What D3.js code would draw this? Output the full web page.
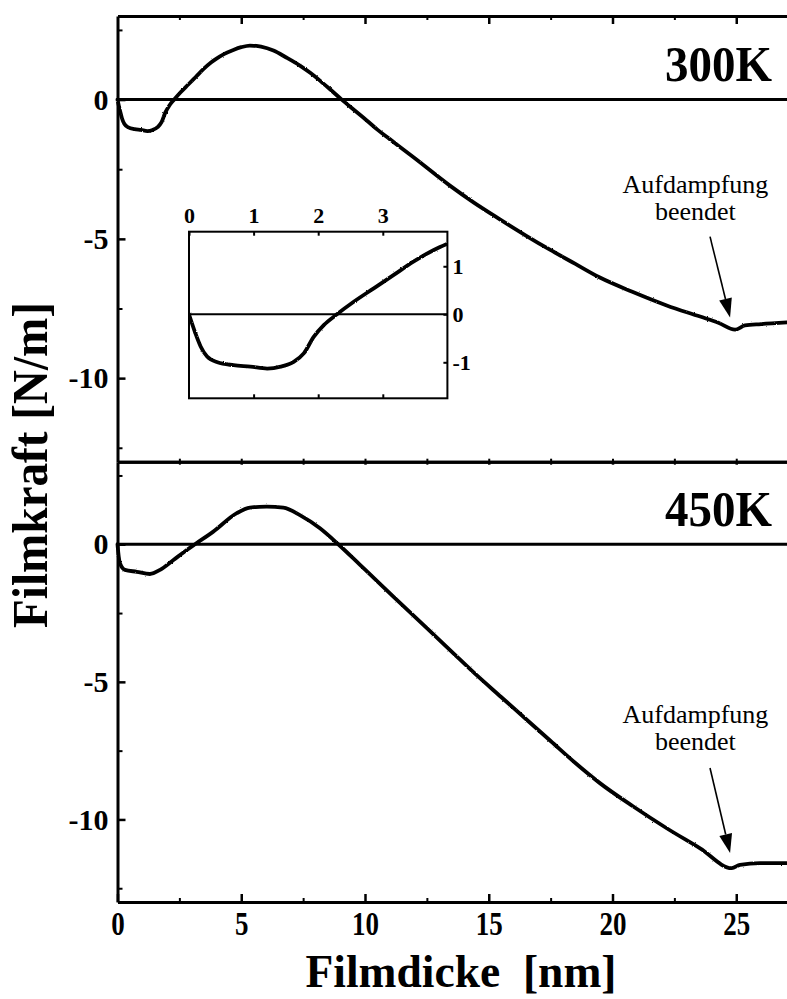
<!DOCTYPE html>
<html>
<head>
<meta charset="utf-8">
<script src="https://cdn.jsdelivr.net/npm/d3@7"></script>
<style>
  body { margin: 0; background: #fff; }
  svg { display: block; }
  text { font-family: "Liberation Serif", "Times New Roman", serif; fill: #000; }
</style>
</head>
<body>
<svg id="chart" width="787" height="999"></svg>
<script>
// Film thickness [nm] and film force [N/m], deposition at 300 K
const thickness300 = [0, 0.1, 0.18, 0.28, 0.44, 0.69, 0.95, 1.21, 1.42, 1.62, 1.78, 1.93, 2.09, 2.29, 2.55, 2.86, 3.17, 3.48, 3.79, 4.0,
  4.3, 4.68, 5.0, 5.35, 5.8, 6.3, 6.8, 7.37, 7.8, 8.18, 8.6, 9.06, 9.5, 10.07, 10.5, 11.0, 12.0, 13.43, 14.4, 15.45, 16.5, 17.47,
  18.5, 19.49, 20.8, 22.19, 23.54, 24.3, 24.95, 25.35, 26.0, 27.05];
const force300 = [0, -0.40, -0.67, -0.88, -1.0, -1.06, -1.09, -1.13, -1.09, -0.99, -0.81, -0.47, -0.22, 0.0, 0.26, 0.54, 0.82, 1.10, 1.34, 1.47,
  1.63, 1.78, 1.88, 1.94, 1.90, 1.76, 1.52, 1.22, 0.95, 0.68, 0.36, 0.0, -0.33, -0.75, -1.08, -1.42, -2.1, -3.09, -3.7, -4.3, -4.88, -5.39,
  -5.9, -6.39, -6.9, -7.39, -7.79, -8.02, -8.26, -8.11, -8.06, -8.0];

// Deposition at 450 K
const thickness450 = [0, 0.05, 0.1, 0.3, 0.78, 1.31, 1.72, 2.26, 2.8, 3.13, 3.87, 4.82, 5.35, 6.03, 6.7, 7.37, 8.18, 8.92, 9.8,
  10.5, 11.5, 12.5, 13.5, 14.5, 15.5, 16.5, 17.5, 18.5, 19.49, 20.84, 22.19, 23.54, 24.82, 25.15, 25.96, 27.04];
const force450 = [0, -0.45, -0.69, -0.93, -1.0, -1.08, -0.93, -0.57, -0.21, 0, 0.46, 1.13, 1.33, 1.37, 1.33, 1.06, 0.58, 0, -0.75,
  -1.35, -2.2, -3.05, -3.9, -4.75, -5.55, -6.35, -7.15, -7.95, -8.68, -9.53, -10.32, -11.05, -11.77, -11.65, -11.59, -11.59];

// Axis ticks
const xMajorTicks = [0, 5, 10, 15, 20, 25];
const xMinorTicks = [2.5, 7.5, 12.5, 17.5, 22.5, 27.5];
const yMajorTicks = [0, -5, -10];
const yMinorTicks = [2.5, -2.5, -7.5, -12.5];
const insetXTicks = [0, 1, 2, 3];
const insetYTicks = [-1, 0, 1];

// Texts
const panelLabels = ["300K", "450K"];
const noteLines = ["Aufdampfung", "beendet"];
const xTitle = "Filmdicke  [nm]";
const yTitle = "Filmkraft [N/m]";

const svg = d3.select("#chart");

// slight grain on the measured traces
const defs = svg.append("defs");
const grain = defs.append("filter").attr("id", "grain")
  .attr("x", "-5%").attr("y", "-5%").attr("width", "110%").attr("height", "110%");
grain.append("feTurbulence").attr("type", "fractalNoise").attr("baseFrequency", 0.8)
  .attr("numOctaves", 1).attr("seed", 3).attr("result", "noise");
grain.append("feDisplacementMap").attr("in", "SourceGraphic").attr("in2", "noise")
  .attr("scale", 2.2).attr("xChannelSelector", "R").attr("yChannelSelector", "G");

const x = d3.scaleLinear().domain([0, 28]).range([117.5, 810.5]);
const yTop = d3.scaleLinear().domain([-13, 3]).range([461.7, 16]);
const yBot = d3.scaleLinear().domain([-13, 3]).range([902, 461.7]);

function zip(a, b) { return a.map((v, i) => [v, b[i]]); }
const series300 = zip(thickness300, force300);
const series450 = zip(thickness450, force450);

function styleAxis(g, tickWidth, fontSize) {
  g.attr("font-family", null).attr("font-size", null);
  g.selectAll(".domain").attr("stroke", "#000").attr("stroke-width", 3);
  g.selectAll(".tick line").attr("stroke", "#000").attr("stroke-width", tickWidth);
  g.selectAll(".tick text").attr("fill", "#000")
    .style("font-size", fontSize + "px").style("font-weight", "bold");
}

const panels = [
  { y: yTop, data: series300, label: panelLabels[0], edgeTop: "frame", edgeBottom: "sep",
    note: { x: 23.35, y: [-3.34, -4.34] }, arrow: { from: [23.94, -4.92], to: [24.75, -7.82] } },
  { y: yBot, data: series450, label: panelLabels[1], edgeTop: "sep", edgeBottom: "axis",
    note: { x: 23.35, y: [-6.48, -7.47] }, arrow: { from: [23.94, -8.13], to: [24.75, -11.22] } }
];

const lineGen = d3.line().curve(d3.curveMonotoneX);

panels.forEach(p => {
  const y = p.y;
  const g = svg.append("g");

  // zero reference line
  g.append("line")
    .attr("x1", x(0)).attr("x2", x(28)).attr("y1", y(0)).attr("y2", y(0))
    .attr("stroke", "#000").attr("stroke-width", 3);

  // measured curve
  g.append("path")
    .attr("d", lineGen.x(d => x(d[0])).y(d => y(d[1]))(p.data))
    .attr("fill", "none").attr("stroke", "#000").attr("stroke-width", 3.8)
    .attr("stroke-linejoin", "round").attr("stroke-linecap", "round")
    .attr("filter", "url(#grain)");

  // left axis
  const left = g.append("g").attr("transform", `translate(${x(0)},0)`)
    .call(d3.axisLeft(y).tickValues(yMajorTicks).tickSize(-8).tickSizeOuter(0).tickPadding(9).tickFormat(d => String(d)));
  styleAxis(left, 2.5, 30);
  const leftMinor = g.append("g").attr("transform", `translate(${x(0)},0)`)
    .call(d3.axisLeft(y).tickValues(yMinorTicks).tickSize(-5).tickSizeOuter(0).tickFormat(""));
  styleAxis(leftMinor, 2, 30);
  leftMinor.select(".domain").remove();

  // top edge
  const topY = y(3);
  const topLen = p.edgeTop === "frame" ? 8 : 3;
  const topAx = g.append("g").attr("transform", `translate(0,${topY})`)
    .call(d3.axisTop(x).tickValues(xMajorTicks.slice(1)).tickSize(-topLen).tickSizeOuter(0).tickFormat(""));
  styleAxis(topAx, 2.5, 10);
  const topMin = g.append("g").attr("transform", `translate(0,${topY})`)
    .call(d3.axisTop(x).tickValues(xMinorTicks).tickSize(-Math.min(topLen, 4)).tickSizeOuter(0).tickFormat(""));
  styleAxis(topMin, 2, 10);
  topMin.select(".domain").remove();

  // bottom edge
  const botY = y(-13);
  if (p.edgeBottom === "axis") {
    const bot = g.append("g").attr("transform", `translate(0,${botY})`)
      .call(d3.axisBottom(x).tickValues(xMajorTicks).tickSize(-8).tickSizeOuter(0).tickPadding(9).tickFormat(d => String(d)));
    styleAxis(bot, 2.5, 34);
    bot.selectAll(".tick text")
      .attr("textLength", d => String(d).length * 13.5)
      .attr("lengthAdjust", "spacingAndGlyphs");
    const botMin = g.append("g").attr("transform", `translate(0,${botY})`)
      .call(d3.axisBottom(x).tickValues(xMinorTicks).tickSize(-4).tickSizeOuter(0).tickFormat(""));
    styleAxis(botMin, 2, 10);
    botMin.select(".domain").remove();
  } else {
    const bot = g.append("g").attr("transform", `translate(0,${botY})`)
      .call(d3.axisBottom(x).tickValues(xMajorTicks.slice(1).concat(xMinorTicks)).tickSize(-3).tickSizeOuter(0).tickFormat(""));
    styleAxis(bot, 2, 10);
  }

  // temperature label
  g.append("text")
    .attr("x", x(22.12)).attr("y", y(0.68))
    .attr("textLength", 107).attr("lengthAdjust", "spacingAndGlyphs")
    .style("font-size", "50px").style("font-weight", "bold")
    .text(p.label);

  // end-of-deposition note with arrow
  noteLines.forEach((t, i) => {
    g.append("text")
      .attr("x", x(p.note.x)).attr("y", y(p.note.y[i]))
      .attr("text-anchor", "middle")
      .style("font-size", "26px")
      .text(t);
  });
  const x1 = x(p.arrow.from[0]), y1 = y(p.arrow.from[1]);
  const x2 = x(p.arrow.to[0]), y2 = y(p.arrow.to[1]);
  const ang = Math.atan2(y2 - y1, x2 - x1);
  const headLen = 19, headHalf = 6.5;
  const bx = x2 - headLen * Math.cos(ang), by = y2 - headLen * Math.sin(ang);
  g.append("line").attr("x1", x1).attr("y1", y1).attr("x2", bx).attr("y2", by)
    .attr("stroke", "#000").attr("stroke-width", 1.6);
  g.append("path")
    .attr("d", `M${x2},${y2}L${bx + headHalf * Math.sin(ang)},${by - headHalf * Math.cos(ang)}L${bx - headHalf * Math.sin(ang)},${by + headHalf * Math.cos(ang)}Z`)
    .attr("fill", "#000");
});

// axis titles
svg.append("text")
  .attr("transform", "translate(47,465) rotate(-90)")
  .attr("text-anchor", "middle")
  .attr("textLength", 326).attr("lengthAdjust", "spacingAndGlyphs")
  .style("font-size", "50px").style("font-weight", "bold")
  .text(yTitle);
svg.append("text")
  .attr("x", 461).attr("y", 987)
  .attr("text-anchor", "middle")
  .attr("textLength", 311).attr("lengthAdjust", "spacingAndGlyphs")
  .style("font-size", "47px").style("font-weight", "bold").style("white-space", "pre")
  .text(xTitle);

// inset: first 4 nm of the 300 K curve
const ix = d3.scaleLinear().domain([0, 4]).range([189, 447.4]);
const iy = d3.scaleLinear().domain([-1.75, 1.72]).range([398.3, 231.7]);
const inset = svg.append("g");
inset.append("clipPath").attr("id", "insetClip").append("rect")
  .attr("x", ix(0)).attr("y", iy(1.72)).attr("width", ix(4) - ix(0)).attr("height", iy(-1.75) - iy(1.72));
inset.append("rect")
  .attr("x", ix(0)).attr("y", iy(1.72)).attr("width", ix(4) - ix(0)).attr("height", iy(-1.75) - iy(1.72))
  .attr("fill", "#fff");
inset.append("line")
  .attr("x1", ix(0)).attr("x2", ix(4)).attr("y1", iy(0)).attr("y2", iy(0))
  .attr("stroke", "#000").attr("stroke-width", 2);
inset.append("g").attr("clip-path", "url(#insetClip)")
  .append("path")
  .attr("d", d3.line().curve(d3.curveMonotoneX).x(d => ix(d[0])).y(d => iy(d[1]))(series300.filter(d => d[0] <= 4)))
  .attr("fill", "none").attr("stroke", "#000").attr("stroke-width", 3.8)
  .attr("stroke-linejoin", "round").attr("stroke-linecap", "round")
  .attr("filter", "url(#grain)");
inset.append("rect")
  .attr("x", ix(0)).attr("y", iy(1.72)).attr("width", ix(4) - ix(0)).attr("height", iy(-1.75) - iy(1.72))
  .attr("fill", "none").attr("stroke", "#000").attr("stroke-width", 2);

const iTop = inset.append("g").attr("transform", `translate(0,${iy(1.72)})`)
  .call(d3.axisTop(ix).tickValues(insetXTicks).tickSize(-4).tickSizeOuter(0).tickPadding(9).tickFormat(d => String(d)));
styleAxis(iTop, 2, 22);
iTop.select(".domain").remove();
const iBot = inset.append("g").attr("transform", `translate(0,${iy(-1.75)})`)
  .call(d3.axisBottom(ix).tickValues(insetXTicks.slice(1)).tickSize(-4).tickSizeOuter(0).tickFormat(""));
styleAxis(iBot, 2, 10);
iBot.select(".domain").remove();
const iRight = inset.append("g").attr("transform", `translate(${ix(4)},0)`)
  .call(d3.axisRight(iy).tickValues(insetYTicks).tickSize(-4).tickSizeOuter(0).tickPadding(5).tickFormat(d => String(d)));
styleAxis(iRight, 2, 22);
iRight.select(".domain").remove();
</script>
</body>
</html>
